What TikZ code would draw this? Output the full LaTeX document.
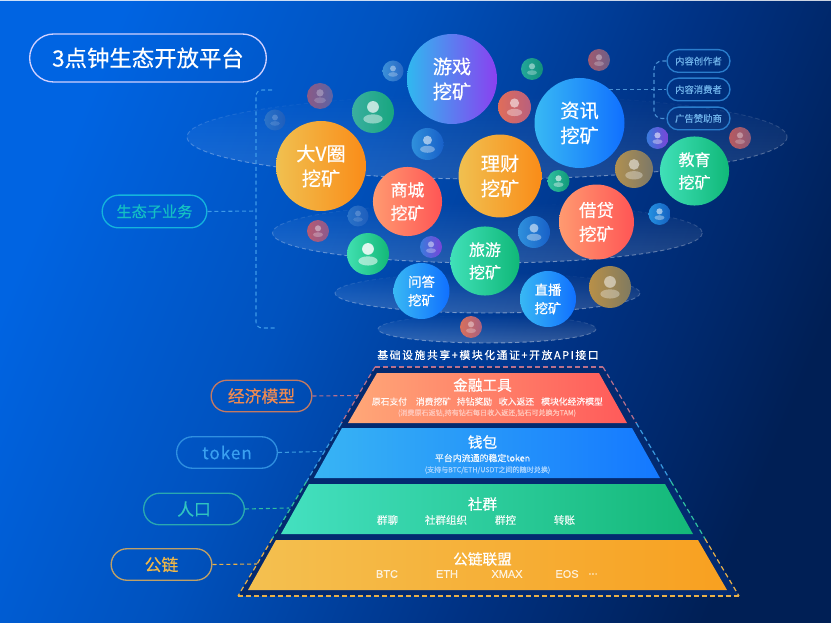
\documentclass[tikz,border=0pt]{standalone}
\usepackage{fontspec}
\setmainfont{Noto Sans CJK SC}[FakeBold=0.45]
\newfontfamily\chainfont{Liberation Sans}[FakeBold=0.3]
\usetikzlibrary{shapes.misc,fadings,calc}
\definecolor{bgA}{HTML}{0064E2}
\definecolor{bgB}{HTML}{0052BE}
\definecolor{bgC}{HTML}{003284}
\definecolor{bgD}{HTML}{001F55}
\pgfdeclarehorizontalshading{bgshade}{100bp}{color(0bp)=(bgA); color(25bp)=(bgA); color(42bp)=(bgB); color(60bp)=(bgC); color(75bp)=(bgD); color(100bp)=(bgD)}
\definecolor{trapfill}{HTML}{032A70}
\newcommand{\defc}[3]{\definecolor{#1L}{HTML}{#2}\definecolor{#1R}{HTML}{#3}}
\defc{bubBlue}{38B8F4}{1070FF}
\defc{bubGame}{30B8F0}{8A40F0}
\defc{bubGold}{F0C050}{FA8C18}
\defc{bubRed}{FF9A70}{FF5555}
\defc{bubGreen}{40E0B8}{10B878}
\defc{aA}{8C5A85}{5A64A6}
\defc{aB}{3AAF9F}{17A67F}
\defc{aC}{3A8FD8}{2A68C4}
\defc{aD}{2A72C8}{1E5EBC}
\defc{aE}{B85A70}{8A5A90}
\defc{aF}{40E0B0}{14B878}
\defc{aG}{2F90DC}{1860C8}
\defc{aH}{23A79A}{128F7A}
\defc{aI}{A05A6E}{6E5F88}
\defc{aJ}{E06D5A}{B8607E}
\defc{aK}{3A7BDC}{7A44D8}
\defc{aL}{B85A60}{8A5A78}
\defc{aM}{B09050}{7C7868}
\defc{aN}{30C0A0}{109878}
\defc{aO}{2490E0}{1560C0}
\defc{aP}{B89048}{807A60}
\defc{aQ}{D8705C}{A86080}
\defc{layA}{FFA878}{FF5A5A}
\defc{layB}{38B4F4}{1478FF}
\defc{layC}{44E0C0}{14B878}
\defc{layD}{F4C050}{F8A020}
\definecolor{pillOrange}{HTML}{C47A62}
\definecolor{textOrange}{HTML}{F08A50}
\definecolor{pillBlue}{HTML}{2F8FE0}
\definecolor{textBlue}{HTML}{3AA0F0}
\definecolor{pillTeal}{HTML}{2AA8B0}
\definecolor{textTeal}{HTML}{30C4C0}
\definecolor{pillGold}{HTML}{BFA066}
\definecolor{textGold}{HTML}{F0B848}
\definecolor{pillCyan}{HTML}{14B4DC}
\definecolor{textCyan}{HTML}{14C0C4}
\definecolor{brk}{HTML}{3E9AE8}
\definecolor{smallPill}{HTML}{2A7DCC}
\definecolor{smallText}{HTML}{6DB0E8}
\definecolor{edgeTop}{HTML}{B8708C}
\definecolor{edgeB}{HTML}{3A9AE0}
\definecolor{edgeC}{HTML}{30C0A0}
\definecolor{edgeD}{HTML}{E8B048}
\definecolor{noteA}{HTML}{FFC8BC}
\definecolor{noteB}{HTML}{A8D4FF}
\newcommand{\fpx}[2]{\fontsize{#1}{#2}\selectfont}
\newcommand{\avatar}[6]{%
  \node[avatarbase,minimum size=#3*1.5pt,left color=#4L,right color=#4R] (#6) at (#1,#2) {};
  \fill[white,fill opacity=#5] (#1,#2) ++(0,-#3*0.24) circle[radius=#3*0.28];
  \fill[white,fill opacity=#5*0.65] (#1,#2) ++(0,#3*0.33) ellipse[x radius=#3*0.46,y radius=#3*0.22];
}
\tikzset{
  x=.75pt,y=-.75pt,
  bubble/.style={circle,inner sep=0pt,align=center,text=white},
  bubXL/.style={bubble,minimum size=67.5pt,font=\fpx{14.4pt}{18.8pt}},
  bubL/.style={bubble,minimum size=62.2pt,font=\fpx{14.4pt}{18.8pt}},
  bubM/.style={bubble,minimum size=56.2pt,font=\fpx{13.1pt}{18pt}},
  bubS/.style={bubble,minimum size=51.8pt,font=\fpx{12pt}{17pt}},
  bubT/.style={bubble,minimum size=42pt,font=\fpx{10pt}{13.9pt}},
  avatarbase/.style={circle,inner sep=0pt,draw=none},
  disc/.style={draw=white,fill=white,path fading=north,fill opacity=#1,draw opacity=.42,line width=.7pt,dash pattern=on 3.2pt off 2.2pt},
  pill/.style={rounded rectangle,inner sep=0pt,line width=1pt,fill=none},
  bigpill/.style={pill,minimum width=75.5pt,minimum height=23.6pt,font=\fpx{12.6pt}{14pt}},
  smallpill/.style={pill,draw=smallPill,text=smallText,minimum width=47.2pt,minimum height=17pt,font=\fpx{7pt}{9pt}},
  link/.style={line width=.8pt,dash pattern=on 3pt off 2.2pt},
  layertitle/.style={text=white,font=\fpx{11pt}{13pt}},
  layeritem/.style={text=white,text opacity=.88,font=\fpx{6.6pt}{8pt}},
  layernote/.style={font=\fpx{5.3pt}{6pt}},
  chainitem/.style={text=white,text opacity=.8,font=\chainfont\fpx{8.2pt}{9pt}},
  trapdash/.style={line width=.9pt,dash pattern=on 3.6pt off 2.4pt},
}
\begin{document}
\begin{tikzpicture}
\useasboundingbox (0,0) rectangle (831,623);
\shade[shading=bgshade,shading angle=-22] (0,0) rectangle (831,623);
\fill[white,opacity=.8] (0,0) rectangle (831,1);

% discs
\path[disc=.11] (487,137) ellipse[x radius=300,y radius=42];
\path[disc=.14] (487.5,233) ellipse[x radius=215,y radius=30];
\path[disc=.17] (487.5,293) ellipse[x radius=152.5,y radius=20];
\path[disc=.2] (487,329) ellipse[x radius=109,y radius=14];

% avatars
\avatar{320}{96}{13}{aA}{.28}{av1}
\avatar{373}{112}{21}{aB}{.7}{av2}
\avatar{393}{71}{10.5}{aC}{.4}{av3}
\avatar{275}{120}{10.5}{aD}{.2}{av4}
\avatar{358}{216}{10.5}{aD}{.2}{av5}
\avatar{318}{231}{11}{aE}{.4}{av6}
\avatar{368}{254}{21}{aF}{.85}{av7}
\avatar{427.5}{144}{16}{aG}{.55}{av8}
\avatar{532}{69}{11}{aH}{.45}{av9}
\avatar{599}{60}{11}{aI}{.35}{av10}
\avatar{514.5}{107}{16.5}{aJ}{.55}{av11}
\avatar{657.5}{138}{11}{aK}{.55}{av12}
\avatar{740}{138}{11}{aL}{.35}{av13}
\avatar{634}{169}{19}{aM}{.5}{av14}
\avatar{558.5}{181}{11}{aN}{.6}{av15}
\avatar{659.5}{214}{11}{aO}{.55}{av16}
\avatar{534}{232}{16}{aG}{.55}{av17}
\avatar{431}{247}{11}{aK}{.45}{av18}
\avatar{610}{287}{21}{aP}{.5}{av19}
\avatar{471}{327}{11}{aQ}{.4}{av20}

% bubbles
\node[bubXL,left color=bubGameL,right color=bubGameR] (game) at (452,79) {游戏\\挖矿};
\node[bubXL,left color=bubBlueL,right color=bubBlueR] (news) at (579.5,123) {资讯\\挖矿};
\node[bubXL,left color=bubGoldL,right color=bubGoldR] (dav) at (321,166) {大V圈\\挖矿};
\node[bubS,left color=bubRedL,right color=bubRedR,font=\fpx{12.6pt}{17.5pt}] (shop) at (407.5,201.5) {商城\\挖矿};
\node[bubL,left color=bubGoldL,right color=bubGoldR] (fin) at (500,176) {理财\\挖矿};
\node[bubM,left color=bubRedL,right color=bubRedR] (loan) at (596.5,222) {借贷\\挖矿};
\node[bubS,left color=bubGreenL,right color=bubGreenR] (edu) at (694.5,171) {教育\\挖矿};
\node[bubS,left color=bubGreenL,right color=bubGreenR] (trip) at (485,261) {旅游\\挖矿};
\node[bubT,left color=bubBlueL,right color=bubBlueR] (qa) at (421.5,291) {问答\\挖矿};
\node[bubT,left color=bubBlueL,right color=bubBlueR] (live) at (548,299) {直播\\挖矿};

% title
\node[pill,draw=white!82!blue,text=white,minimum width=177.5pt,minimum height=36pt,font=\fpx{16.8pt}{20pt}] (title) at (148,58) {3点钟生态开放平台};

% ecosystem label and bracket
\node[pill,draw=pillCyan,text=textCyan,minimum width=78.5pt,minimum height=24.5pt,font=\fpx{11.4pt}{14pt}] (eco) at (154.5,211.5) {生态子业务};
\coordinate (ecoMid) at (256,211);
\coordinate (ecoTop) at (272,90);
\coordinate (ecoBot) at (275,328);
\draw[link,brk] (ecoTop) -- (262,90) to[out=180,in=90] (256,96) -- (256,322) to[out=-90,in=180] (262,328) -- (ecoBot);
\draw[link,brk] (eco.east) -- (ecoMid);

% audience labels
\node[smallpill] (creator) at (698.5,61) {内容创作者};
\node[smallpill] (consumer) at (698.5,89.5) {内容消费者};
\node[smallpill] (sponsor) at (698.5,118.5) {广告赞助商};
\coordinate (audStart) at (609,89.5);
\draw[link,smallPill!85!white] (creator.west) -- (662,61) to[out=180,in=90] (654,69) -- (654,111) to[out=-90,in=180] (662,118.5) -- (sponsor.west);
\draw[link,smallPill!85!white] (audStart) -- (consumer.west);

% pyramid frame
\coordinate (tl) at (375,367);
\coordinate (tr) at (603,367);
\coordinate (bl) at (238,596);
\coordinate (br) at (739,596);
\fill[trapfill] (tl) -- (tr) -- (br) -- (bl) -- cycle;
\draw[trapdash,edgeTop] (tl) -- (tr);
\draw[trapdash,edgeD] (bl) -- (br);
\draw[trapdash,edgeTop] (tl) -- ($(tl)!0.245!(bl)$);
\draw[trapdash,edgeB] ($(tl)!0.245!(bl)$) -- ($(tl)!0.5!(bl)$);
\draw[trapdash,edgeC] ($(tl)!0.5!(bl)$) -- ($(tl)!0.75!(bl)$);
\draw[trapdash,edgeD] ($(tl)!0.75!(bl)$) -- (bl);
\draw[trapdash,edgeTop] (tr) -- ($(tr)!0.245!(br)$);
\draw[trapdash,edgeB] ($(tr)!0.245!(br)$) -- ($(tr)!0.5!(br)$);
\draw[trapdash,edgeC] ($(tr)!0.5!(br)$) -- ($(tr)!0.75!(br)$);
\draw[trapdash,edgeD] ($(tr)!0.75!(br)$) -- (br);

% layers
\shade[left color=layAL,right color=layAR] (377,373) -- (599,373) -- (627,423) -- (348,423) -- cycle;
\shade[left color=layBL,right color=layBR] (342,428) -- (632,428) -- (660,478) -- (314,478) -- cycle;
\shade[left color=layCL,right color=layCR] (309,484) -- (665,484) -- (693,534) -- (281,534) -- cycle;
\shade[left color=layDL,right color=layDR] (276,540) -- (698,540) -- (727,590) -- (248,590) -- cycle;

\node[text=white,font=\fpx{8.1pt}{9pt}\addfontfeature{LetterSpace=15}] (infra) at (488,355) {基础设施共享+模块化通证+开放API接口};

\node[layertitle] (t1) at (482.5,385) {金融工具};
\node[layeritem] (i11) at (389.5,401.5) {原石支付};
\node[layeritem] (i12) at (433.5,401.5) {消费挖矿};
\node[layeritem] (i13) at (474.5,401.5) {持钻奖励};
\node[layeritem] (i14) at (516.5,401.5) {收入返还};
\node[layeritem] (i15) at (572,401.5) {模块化经济模型};
\node[layernote,text=noteA] (n1) at (487,413) {(消费原石返钻,持有钻石每日收入返还,钻石可兑换为TAM)};

\node[layertitle] (t2) at (482.5,442) {钱包};
\node[text=white,text opacity=.9,font=\fpx{6.7pt}{9pt}] (i21) at (482.5,458) {平台内流通的稳定token};
\node[layernote,text=noteB] (n2) at (487.5,470) {(支持与BTC/ETH/USDT之间的随时兑换)};

\node[layertitle] (t3) at (482.5,504) {社群};
\node[layeritem,font=\fpx{7.9pt}{9pt}] (i31) at (387.5,520) {群聊};
\node[layeritem,font=\fpx{7.9pt}{9pt}] (i32) at (446,520) {社群组织};
\node[layeritem,font=\fpx{7.9pt}{9pt}] (i33) at (505.5,520) {群控};
\node[layeritem,font=\fpx{7.9pt}{9pt}] (i34) at (564.5,520) {转账};

\node[layertitle] (t4) at (482.5,559) {公链联盟};
\node[chainitem] (i41) at (387,574) {BTC};
\node[chainitem] (i42) at (447,574) {ETH};
\node[chainitem] (i43) at (507,574) {XMAX};
\node[chainitem] (i44) at (567,574) {EOS};
\node[chainitem] (i45) at (593,574) {...};

% side labels
\node[bigpill,draw=pillOrange,text=textOrange] (econ) at (261.5,396) {经济模型};
\node[bigpill,draw=pillBlue,text=textBlue,font=\fpx{12.8pt}{14pt}\addfontfeature{LetterSpace=6}] (tok) at (227,452.5) {token};
\node[bigpill,draw=pillTeal,text=textTeal] (pop) at (194,509) {人口};
\node[bigpill,draw=pillGold,text=textGold] (chain) at (161.5,564.5) {公链};
\coordinate (econEnd) at (358,395.5);
\coordinate (tokEnd) at (322,451.5);
\coordinate (popEnd) at (289,508);
\coordinate (chainEnd) at (257,564);
\draw[link,edgeTop] (econ.east) -- (econEnd);
\draw[link,edgeB] (tok.east) -- (tokEnd);
\draw[link,edgeC] (pop.east) -- (popEnd);
\draw[link,edgeD] (chain.east) -- (chainEnd);
\end{tikzpicture}
\end{document}
